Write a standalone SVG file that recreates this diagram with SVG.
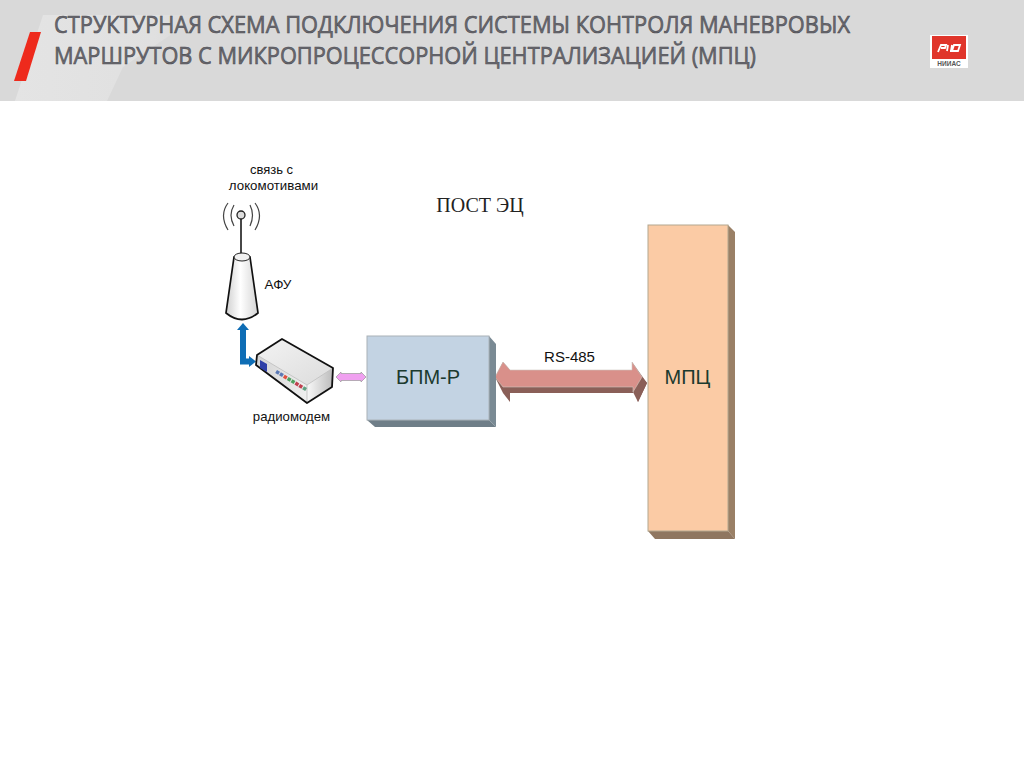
<svg xmlns="http://www.w3.org/2000/svg" width="1024" height="767" viewBox="0 0 1024 767">
<style>
.t{font-family:"Liberation Sans",Arial,sans-serif;fill:#111}
.h{font-family:"Open Sans","Noto Sans",sans-serif;font-size:24.5px;fill:#6a6a70;stroke:#4c4c52;stroke-width:.6}
</style>
<defs>
<linearGradient id="cone" x1="0" x2="1" y1="0" y2="0"><stop offset="0" stop-color="#cfcfcf"/><stop offset=".45" stop-color="#fff"/><stop offset="1" stop-color="#d4d4d4"/></linearGradient>
<linearGradient id="front" x1="0" x2="1" y1="0" y2="0"><stop offset="0" stop-color="#d4d4d4"/><stop offset="1" stop-color="#efefef"/></linearGradient>
<linearGradient id="side" x1="0" x2="1" y1="0" y2="0"><stop offset="0" stop-color="#f8f8f8"/><stop offset="1" stop-color="#bbb"/></linearGradient>
<linearGradient id="topf" x1="0" x2="1" y1="0" y2="1"><stop offset="0" stop-color="#f3f3f3"/><stop offset="1" stop-color="#dcdcdc"/></linearGradient>
<linearGradient id="sheen" x1="0" x2="1" y1="0" y2="0"><stop offset="0" stop-color="#e4e4e4"/><stop offset=".75" stop-color="#e0e0e0"/><stop offset="1" stop-color="#d9d9d9"/></linearGradient>
</defs>
<rect width="1024" height="767" fill="#fff"/>
<g id="header">
<rect x="0" y="0" width="1024" height="101" fill="#d9d9d9"/>
<polygon points="43,15 200,15 123,67 107,101 15,101" fill="url(#sheen)"/>
<polygon points="30,32 41,32 26,81 14,81" fill="#ee2a1c"/>
<text class="h" x="54" y="33" textLength="796" lengthAdjust="spacingAndGlyphs">СТРУКТУРНАЯ СХЕМА ПОДКЛЮЧЕНИЯ СИСТЕМЫ КОНТРОЛЯ МАНЕВРОВЫХ</text>
<text class="h" x="54" y="64" textLength="702" lengthAdjust="spacingAndGlyphs">МАРШРУТОВ С МИКРОПРОЦЕССОРНОЙ ЦЕНТРАЛИЗАЦИЕЙ (МПЦ)</text>
</g>
<g id="logo">
<rect x="930" y="35" width="38" height="33" fill="#fff"/>
<rect x="932" y="36" width="34" height="23" fill="#e0352b"/>
<path d="M938 52 L941 45 H946 L945 48 H941 M948 45 L947 51 M952 45 L951 51 M950 51 H958 L960 45 H954 L952 51" fill="none" stroke="#fff" stroke-width="1.800"/>
<text class="t" x="949" y="66" font-size="6.500" font-weight="bold" text-anchor="middle" style="fill:#555">НИИАС</text>
</g>
<text id="post-label" x="480" y="212" font-family="Liberation Serif,serif" font-size="20" text-anchor="middle" fill="#222">ПОСТ ЭЦ</text>
<g id="connectors">
<path d="M243 328 V361.500 H250" fill="none" stroke="#0e6db5" stroke-width="6"/>
<polygon points="243,323 249,330 237,330" fill="#0e6db5"/>
<polygon points="256,361.500 249,356 249,367" fill="#0e6db5"/>
<polygon points="336,377 341,372 341,373.500 361,373.500 361,372 366,377 361,382 361,380.500 341,380.500 341,382" fill="#f0a0f0" stroke="#999" stroke-width=".7"/>
<g id="rs485">
<polygon points="495,377 503,362 510,370 510,402 503,393" fill="#8a5f58"/>
<polygon points="510,387 634,387 638,402 647,383 642,377 633,392 633,393 510,393" fill="#8a5f58"/>
<polygon points="632,362 647,383 638,402 633,392" fill="#8a5f58"/>
<polygon points="495,377 503,362 510,370 632,370 632,362 642,377 633,392 633,387 510,387 503,387" fill="#d9908a" stroke="#cfc8c0" stroke-width=".6"/>
<text class="t" x="569.500" y="362" font-size="15" text-anchor="middle">RS-485</text>
</g>
</g>
<g id="antenna">
<path d="M241 219 V254" stroke="#333" stroke-width="1.800" fill="none"/>
<circle cx="241" cy="215" r="4" fill="#ddd" stroke="#222" stroke-width="1.300"/>
<path d="M234 205 Q228 215 234 226 M228 203 Q219 215 228 230 M250 205 Q255 215 250 226 M255 203 Q264 215 255 230" fill="none" stroke="#444" stroke-width="1.200"/>
<path d="M234 257 L226 313 Q242 326 258 313 L250 257 Z" fill="url(#cone)" stroke="#111" stroke-width="1.700"/>
<ellipse cx="242" cy="257" rx="8" ry="4" fill="#f2f2f2" stroke="#222" stroke-width="1"/>
<text class="t" x="278" y="289" font-size="13.500" text-anchor="middle">АФУ</text>
</g>
<g id="comm-label">
<text class="t" x="271.500" y="174" font-size="13" text-anchor="middle">связь с</text>
<text class="t" x="273.500" y="190" font-size="13.300" text-anchor="middle">локомотивами</text>
</g>
<g id="radiomodem">
<polygon points="257,355 282,339 333,368 307,385" fill="url(#topf)"/>
<polygon points="257,355 307,385 307,403 256,365" fill="url(#front)"/>
<polygon points="307,385 333,368 332,387 307,403" fill="url(#side)"/>
<path d="M257,355 L307,385 L333,368 M307,385 V403" fill="none" stroke="#bbb" stroke-width=".8"/>
<polygon points="257,355 282,339 333,368 332,387 307,403 256,365" fill="none" stroke="#111" stroke-width="1.800" stroke-linejoin="round"/>
<polygon points="260,360 267,364 267,372 260,368" fill="#2f3fa8"/>
<g transform="translate(277,370) rotate(31)">
<rect x="0" y="0" width="3.500" height="3.500" fill="#5a78b5"/><rect x="4.500" y="0" width="3.500" height="3.500" fill="#5a78b5"/><rect x="9" y="0" width="3.500" height="3.500" fill="#e05040"/><rect x="13.500" y="0" width="3.500" height="3.500" fill="#50a060"/><rect x="18" y="0" width="3.500" height="3.500" fill="#50a060"/><rect x="22.500" y="0" width="3.500" height="3.500" fill="#c04050"/><rect x="27" y="0" width="3.500" height="3.500" fill="#c04050"/><rect x="31.500" y="0" width="3.500" height="3.500" fill="#60a080"/>
</g>
<text class="t" x="291.500" y="421" font-size="13.200" text-anchor="middle">радиомодем</text>
</g>
<g id="bpm">
<polygon points="489,336 496,344 496,427 489,420" fill="#7a8a94"/>
<polygon points="367,420 489,420 496,427 375,427" fill="#6f7e88"/>
<rect x="367" y="336" width="122" height="84" fill="#c3d3e3" stroke="#aab2b8" stroke-width="1"/>
<text x="428" y="384" font-family="Liberation Sans,sans-serif" font-size="20" text-anchor="middle" fill="#1b3a2e">БПМ-Р</text>
</g>
<g id="mpc">
<polygon points="728,225 735,232 735,539 728,531" fill="#9a8066"/>
<polygon points="648,531 728,531 735,539 655,539" fill="#8f7660"/>
<rect x="648" y="225" width="80" height="306" fill="#fbcba5" stroke="#b3a78f" stroke-width="1"/>
<text x="687.500" y="384" font-family="Liberation Sans,sans-serif" font-size="20" text-anchor="middle" fill="#1b3a2e">МПЦ</text>
</g>
</svg>
